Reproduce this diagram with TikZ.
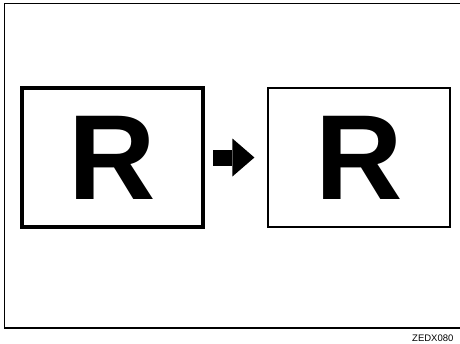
\documentclass[tikz,border=0pt]{standalone}
\usepackage{fontspec}
\setmainfont{Liberation Sans}
\usetikzlibrary{positioning,arrows.meta}
\tikzset{
  flowarrow/.style={-{Triangle[length=22pt, width=38pt, line width=0pt]}, line width=16pt},
  pagebox/.style={draw, line width=4pt, minimum width=181pt, minimum height=139pt, inner sep=0pt},
  pagebox2/.style={draw, line width=1.2pt, minimum width=182pt, minimum height=139pt, inner sep=0pt},
  bigletter/.style={font=\bfseries\fontsize{121}{121}\selectfont, inner sep=0pt},
  codelabel/.style={font=\fontsize{9.5}{10}\selectfont, inner sep=0pt, anchor=base west}
}
\begin{document}
\begin{tikzpicture}[x=1pt, y=-1pt, >=Latex]
      \useasboundingbox (0,0) rectangle (460,343);
      \draw[line width=1.3pt] (460,3.5) -- (4.5,3.5) -- (4.5,328) -- (460,328);
      \node[pagebox] (src) at (112.5,157.5) {};
      \node[pagebox2] (dst) at (359,157.5) {};
      \node[bigletter] (r1) at (src.center) {R};
      \node[bigletter] (r2) at (dst.center) {R};
      \draw[flowarrow] ([xshift=8pt]src.east) -- ([xshift=-13pt]dst.west);
      \node[codelabel] (code) at (412,341.5) {ZEDX080};
    \end{tikzpicture}
\end{document}
